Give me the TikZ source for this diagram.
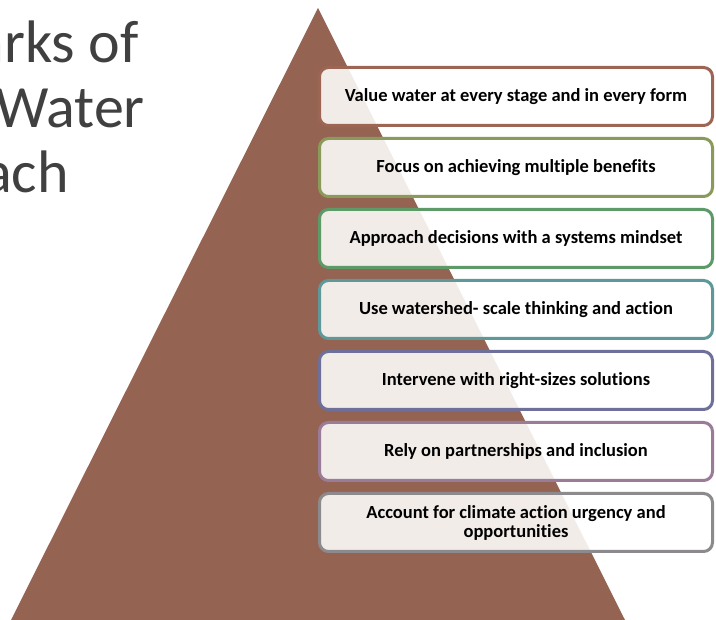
\documentclass[tikz,border=0pt]{standalone}
\usepackage{fontspec}
\setmainfont{Carlito}[Ligatures=NoCommon]
\definecolor{pyramid}{RGB}{149,99,82}
\definecolor{titlegray}{RGB}{64,64,64}
\definecolor{edgeA}{RGB}{156,101,84}
\definecolor{edgeB}{RGB}{138,154,91}
\definecolor{edgeC}{RGB}{94,154,104}
\definecolor{edgeD}{RGB}{94,152,152}
\definecolor{edgeE}{RGB}{110,112,154}
\definecolor{edgeF}{RGB}{154,123,152}
\definecolor{edgeG}{RGB}{140,138,140}
\begin{document}
\begin{tikzpicture}[x=1pt,y=-1pt,
	hbox/.style={rounded corners=9pt,line width=3pt,fill=white,fill opacity=0.88,
		text opacity=1,minimum width=393pt,minimum height=58pt,align=center,
		font=\bfseries\fontsize{18.5}{19}\selectfont},
	title/.style={anchor=base east,inner sep=0pt,text=titlegray,
		font=\fontsize{60}{65}\selectfont}]
	\useasboundingbox (0,0) rectangle (716,620);
	\clip (0,0) rectangle (716,620);
	\fill[pyramid] (318,8) -- (625,620) -- (11,620) -- cycle;
	\node[title] (t1) at (139,63) {Hallmarks of};
	\node[title] (t2) at (145,128) {One Water};
	\node[title] (t3) at (69,193) {Approach};
	\node[hbox,draw=edgeA] (v1) at (516,96.5) {Value water at every stage and in every form};
	\node[hbox,draw=edgeB] (v2) at (516,167.5) {Focus on achieving multiple benefits};
	\node[hbox,draw=edgeC] (v3) at (516,238.5) {Approach decisions with a systems mindset};
	\node[hbox,draw=edgeD] (v4) at (516,309.5) {Use watershed- scale thinking and action};
	\node[hbox,draw=edgeE] (v5) at (516,380.5) {Intervene with right-sizes solutions};
	\node[hbox,draw=edgeF] (v6) at (516,451.5) {Rely on partnerships and inclusion};
	\node[hbox,draw=edgeG] (v7) at (516,522.5) {Account for climate action urgency and\\opportunities};
\end{tikzpicture}
\end{document}
